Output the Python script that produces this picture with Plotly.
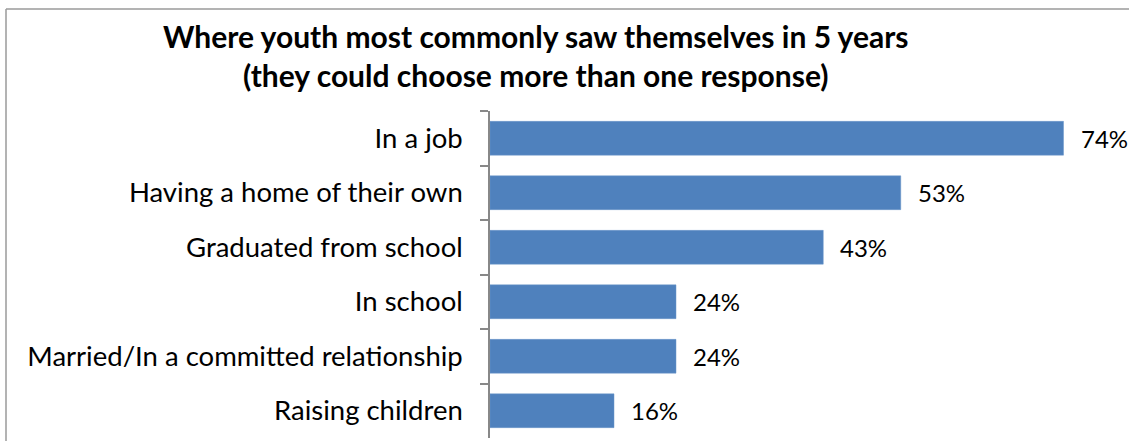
import plotly.graph_objects as go

categories = ["In a job", "Having a home of their own", "Graduated from school",
              "In school", "Married/In a committed relationship", "Raising children"]
values = [74, 53, 43, 24, 24, 16]
labels = ["74%", "53%", "43%", "24%", "24%", "16%"]

FONT = "Lato"
W, H = 1129, 441
ML, MR, MT, MB = 490, 19, 111, 3
PW, PH = W - ML - MR, H - MT - MB

def px_x(px):
    return (px - ML) / PW

def px_y(py):
    return 1 - (py - MT) / PH

fig = go.Figure(go.Bar(
    x=values, y=categories, orientation="h",
    marker=dict(color="#4F81BD", line=dict(color="#6A96CB", width=0.5)),
    width=0.62, hoverinfo="skip",
))

for c, v, t in zip(categories, values, labels):
    fig.add_annotation(x=v, y=c, text=t, showarrow=False, xanchor="left",
                       xshift=15, font=dict(family=FONT, size=24, color="#000"))

fig.add_annotation(xref="paper", yref="paper", x=px_x(536), y=px_y(56),
                   text="<b>Where youth most commonly saw themselves in 5 years<br>(they could choose more than one response)</b>",
                   showarrow=False, xanchor="center", yanchor="middle",
                   font=dict(family=FONT, size=30, color="#000"))

# chart border (top and left visible)
gray = "#9A9A9A"
fig.add_shape(type="line", xref="paper", yref="paper", x0=px_x(6), x1=px_x(1135),
              y0=px_y(9), y1=px_y(9), line=dict(color=gray, width=1.5))
fig.add_shape(type="line", xref="paper", yref="paper", x0=px_x(6), x1=px_x(6),
              y0=px_y(9), y1=px_y(450), line=dict(color=gray, width=1.5))

fig.update_layout(
    width=W, height=H,
    margin=dict(l=ML, r=MR, t=MT, b=MB),
    paper_bgcolor="white", plot_bgcolor="white",
    showlegend=False,
    bargap=0.38,
    xaxis=dict(range=[0, 80], visible=False, fixedrange=True),
    yaxis=dict(autorange="reversed", categoryorder="array", categoryarray=categories,
               showline=True, linecolor="#888888", linewidth=1.5,
               ticks="outside", tickson="boundaries", ticklen=8, tickcolor="#888888",
               tickwidth=1.5, ticklabelstandoff=20,
               tickfont=dict(family=FONT, size=27.5, color="#000"), fixedrange=True),
)

fig.write_html("out.html")
